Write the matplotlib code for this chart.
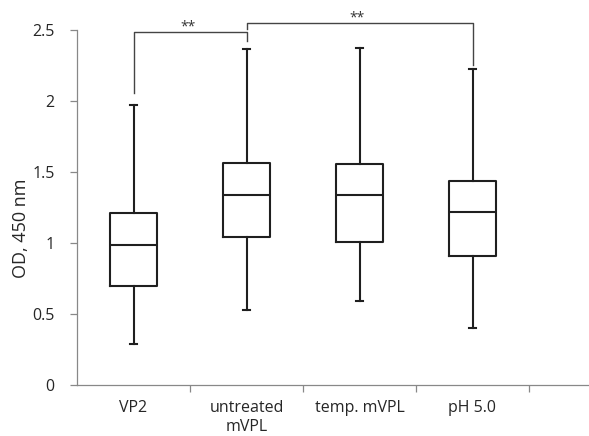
import matplotlib
matplotlib.use("Agg")
import matplotlib.pyplot as plt

categories = ["VP2", "untreated\nmVPL", "temp. mVPL", "pH 5.0"]
whislo = [0.29, 0.53, 0.59, 0.40]
q1 = [0.70, 1.04, 1.01, 0.91]
med = [0.985, 1.34, 1.34, 1.215]
q3 = [1.21, 1.565, 1.555, 1.44]
whishi = [1.97, 2.365, 2.37, 2.225]

yticks = [0, 0.5, 1, 1.5, 2, 2.5]
ytick_labels = ["0", "0.5", "1", "1.5", "2", "2.5"]

# significance brackets: (left idx, right idx, bar height, left leg bottom, right leg bottom, label)
brackets = [
    (0, 1, 2.488, 2.055, 2.425, "**"),
    (1, 3, 2.552, 2.505, 2.25, "**"),
]

plt.rcParams['font.family'] = ['Open Sans', 'DejaVu Sans']

fig = plt.figure(figsize=(5.89, 4.36), dpi=100)
ax = fig.add_axes([77/589, 51/436, 1 - 77/589, (385 - 30)/436])

stats = []
for i in range(len(categories)):
    stats.append(dict(med=med[i], q1=q1[i], q3=q3[i], whislo=whislo[i], whishi=whishi[i], fliers=[], label=categories[i]))

positions = list(range(1, len(categories) + 1))
lw = 1.5
col = "#1f1f1f"
ax.bxp(stats, positions=positions, widths=0.41, showfliers=False, patch_artist=False,
       boxprops=dict(color=col, linewidth=lw),
       medianprops=dict(color=col, linewidth=lw),
       whiskerprops=dict(color=col, linewidth=lw),
       capprops=dict(color=col, linewidth=lw),
       capwidths=0.06)

ax.set_xlim(0.5, 0.5 + 512/113)
ax.set_ylim(0, 2.5)
ax.set_yticks(yticks)
ax.set_yticklabels(ytick_labels)

# category boundary ticks, labels at centers
ax.set_xticks([1.5, 2.5, 3.5, 4.5])
ax.set_xticklabels([])
ax.set_xticks(positions, minor=True)
ax.set_xticklabels(categories, minor=True)
ax.tick_params(axis='x', which='minor', length=0, pad=11, labelsize=11.5, colors="#262626")
ax.tick_params(axis='x', which='major', length=5, width=0.9, color="#888888", direction='out')
ax.tick_params(axis='y', length=5, width=0.9, color="#888888", pad=11, labelsize=11.5, labelcolor="#262626")

for s in ["top", "right"]:
    ax.spines[s].set_visible(False)
for s in ["left", "bottom"]:
    ax.spines[s].set_color("#888888")
    ax.spines[s].set_linewidth(0.9)

ax.set_ylabel("OD, 450 nm", fontsize=13, color="#262626", va='center')
ax.yaxis.set_label_coords((21 - 77) / 512, (385 - 228) / 355)

for (a, b, h, lb, rb, lab) in brackets:
    xa, xb = positions[a], positions[b]
    ax.plot([xa, xa, xb, xb], [lb, h, h, rb], color="#444444", linewidth=1.0, clip_on=False)
    ax.text((xa + xb) / 2 - 0.02, h + 0.008, lab, ha='center', va='baseline', fontsize=10, color="#333333", clip_on=False)

fig.savefig("out.png", dpi=100)
